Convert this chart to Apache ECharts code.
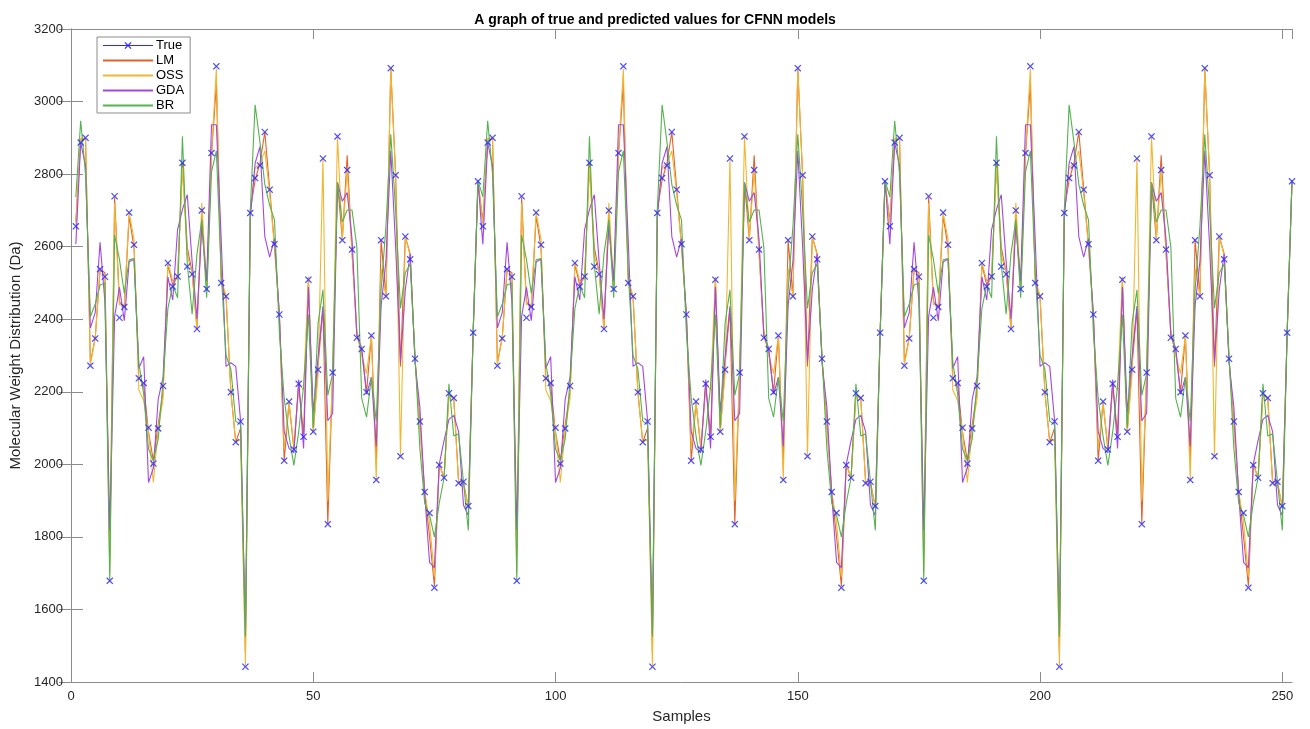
<!DOCTYPE html>
<html><head><meta charset="utf-8">
<script src="https://cdn.jsdelivr.net/npm/echarts@6/dist/echarts.min.js"></script>
<style>html,body{margin:0;padding:0;background:#fff}#c{width:1310px;height:729px}</style>
</head><body><div id="c"></div>
<script>
const xTicks = [0, 50, 100, 150, 200, 250];
const yTicks = [1400, 1600, 1800, 2000, 2200, 2400, 2600, 2800, 3000, 3200];
const seriesNames = ['True', 'LM', 'OSS', 'GDA', 'BR'];

const trueVals = [
2656,2887,2900,2272,2347,2538,2517,1679,2739,2404,2434,2694,2605,2237,2224,2101,2002,2099,2216,2555,2490,2518,2831,2545,2524,2373,2700,2483,2858,3097,2500,2463,2199,2061,2118,1442,2693,2789,2824,2916,2757,2607,2413,2010,2173,2041,2222,2076,2509,2090,2261,2843,1835,2253,2904,2618,2811,2592,2349,2318,2199,2355,1957,2618,2463,3092,2797,2022,2628,2565,2291,2118,1924,1866,1660,1998,1963,2196,2183,1948,1952,1885,2363,2780,
2656,2887,2900,2272,2347,2538,2517,1679,2739,2404,2434,2694,2605,2237,2224,2101,2002,2099,2216,2555,2490,2518,2831,2545,2524,2373,2700,2483,2858,3097,2500,2463,2199,2061,2118,1442,2693,2789,2824,2916,2757,2607,2413,2010,2173,2041,2222,2076,2509,2090,2261,2843,1835,2253,2904,2618,2811,2592,2349,2318,2199,2355,1957,2618,2463,3092,2797,2022,2628,2565,2291,2118,1924,1866,1660,1998,1963,2196,2183,1948,1952,1885,2363,2780,
2656,2887,2900,2272,2347,2538,2517,1679,2739,2404,2434,2694,2605,2237,2224,2101,2002,2099,2216,2555,2490,2518,2831,2545,2524,2373,2700,2483,2858,3097,2500,2463,2199,2061,2118,1442,2693,2789,2824,2916,2757,2607,2413,2010,2173,2041,2222,2076,2509,2090,2261,2843,1835,2253,2904,2618,2811,2592,2349,2318,2199,2355,1957,2618,2463,3092,2797,2022,2628,2565,2291,2118,1924,1866,1660,1998,1963,2196,2183,1948,1952,1885,2363,2780];

const lmVals = [
2670,2893,2898,2280,2350,2535,2529,1755,2736,2448,2434,2684,2598,2240,2216,2089,2010,2110,2200,2551,2494,2518,2830,2598,2529,2373,2690,2483,2853,3049,2500,2460,2199,2061,2100,1480,2700,2784,2830,2916,2760,2605,2413,2010,2170,2041,2216,2083,2509,2090,2274,2430,1836,2250,2777,2620,2852,2586,2355,2310,2199,2355,2000,2618,2463,3090,2797,2270,2628,2580,2291,2118,1924,1800,1665,2000,1963,2193,2183,1952,1952,1881,2363,2780,
2670,2893,2898,2280,2350,2535,2529,1755,2736,2448,2434,2684,2598,2240,2216,2089,2010,2110,2200,2551,2494,2518,2830,2598,2529,2373,2690,2483,2853,3049,2500,2460,2199,2061,2100,1480,2700,2784,2830,2916,2760,2605,2413,2010,2170,2041,2216,2083,2509,2090,2274,2430,1836,2250,2777,2620,2852,2586,2355,2310,2199,2355,2000,2618,2463,3090,2797,2270,2628,2580,2291,2118,1924,1800,1665,2000,1963,2193,2183,1952,1952,1881,2363,2780,
2670,2893,2898,2280,2350,2535,2529,1755,2736,2448,2434,2684,2598,2240,2216,2089,2010,2110,2200,2551,2494,2518,2830,2598,2529,2373,2690,2483,2853,3049,2500,2460,2199,2061,2100,1480,2700,2784,2830,2916,2760,2605,2413,2010,2170,2041,2216,2083,2509,2090,2274,2430,1836,2250,2777,2620,2852,2586,2355,2310,2199,2355,2000,2618,2463,3090,2797,2270,2628,2580,2291,2118,1924,1800,1665,2000,1963,2193,2183,1952,1952,1881,2363,2780];

const ossVals = [
2660,2899,2900,2275,2347,2540,2520,1697,2720,2440,2440,2694,2621,2205,2176,2089,1950,2100,2180,2557,2506,2510,2818,2575,2529,2373,2720,2490,2858,3090,2510,2465,2199,2061,2070,1445,2690,2818,2830,2864,2748,2598,2413,2044,2170,2050,2222,2205,2517,2090,2250,2843,1900,2255,2904,2621,2811,2580,2370,2300,2250,2355,1957,2540,2463,3092,2795,2022,2628,2575,2291,2100,1924,1840,1690,2000,1963,2190,2180,1948,1945,1885,2363,2780,
2660,2899,2900,2275,2347,2540,2520,1697,2720,2440,2440,2694,2621,2205,2176,2089,1950,2100,2180,2557,2506,2510,2818,2575,2529,2373,2720,2490,2858,3090,2510,2465,2199,2061,2070,1445,2690,2818,2830,2864,2748,2598,2413,2044,2170,2050,2222,2205,2517,2090,2250,2843,1900,2255,2904,2621,2811,2580,2370,2300,2250,2355,1957,2540,2463,3092,2795,2022,2628,2575,2291,2100,1924,1840,1690,2000,1963,2190,2180,1948,1945,1885,2363,2780,
2660,2899,2900,2275,2347,2540,2520,1697,2720,2440,2440,2694,2621,2205,2176,2089,1950,2100,2180,2557,2506,2510,2818,2575,2529,2373,2720,2490,2858,3090,2510,2465,2199,2061,2070,1445,2690,2818,2830,2864,2748,2598,2413,2044,2170,2050,2222,2205,2517,2090,2250,2843,1900,2255,2904,2621,2811,2580,2370,2300,2250,2355,1957,2540,2463,3092,2795,2022,2628,2575,2291,2100,1924,1840,1690,2000,1963,2190,2180,1948,1945,1885,2363,2780];

const gdaVals = [
2607,2887,2823,2376,2418,2612,2448,1818,2407,2488,2396,2558,2566,2265,2297,1950,1990,2180,2240,2517,2453,2647,2702,2743,2558,2401,2657,2505,2936,2936,2620,2270,2280,2270,2120,1530,2680,2830,2876,2628,2571,2622,2413,2090,2044,2032,2234,2044,2489,2142,2297,2436,2120,2140,2777,2725,2749,2621,2355,2321,2193,2240,2050,2436,2560,2864,2600,2281,2482,2580,2280,2158,1916,1730,1715,2000,2066,2124,2135,2090,1888,1859,2363,2782,
2607,2887,2823,2376,2418,2612,2448,1818,2407,2488,2396,2558,2566,2265,2297,1950,1990,2180,2240,2517,2453,2647,2702,2743,2558,2401,2657,2505,2936,2936,2620,2270,2280,2270,2120,1530,2680,2830,2876,2628,2571,2622,2413,2090,2044,2032,2234,2044,2489,2142,2297,2436,2120,2140,2777,2725,2749,2621,2355,2321,2193,2240,2050,2436,2560,2864,2600,2281,2482,2580,2280,2158,1916,1730,1715,2000,2066,2124,2135,2090,1888,1859,2363,2782,
2607,2887,2823,2376,2418,2612,2448,1818,2407,2488,2396,2558,2566,2265,2297,1950,1990,2180,2240,2517,2453,2647,2702,2743,2558,2401,2657,2505,2936,2936,2620,2270,2280,2270,2120,1530,2680,2830,2876,2628,2571,2622,2413,2090,2044,2032,2234,2044,2489,2142,2297,2436,2120,2140,2777,2725,2749,2621,2355,2321,2193,2240,2050,2436,2560,2864,2600,2281,2482,2580,2280,2158,1916,1730,1715,2000,2066,2124,2135,2090,1888,1859,2363,2782];

const brVals = [
2737,2947,2800,2407,2442,2494,2500,1680,2632,2565,2471,2564,2567,2280,2193,2042,2010,2070,2230,2430,2494,2459,2904,2552,2414,2580,2674,2459,2806,2864,2530,2300,2262,2119,2110,1525,2700,2991,2888,2772,2714,2674,2366,2182,2078,1997,2090,2216,2413,2101,2390,2481,2190,2250,2777,2668,2701,2701,2598,2182,2130,2240,2118,2480,2656,2910,2700,2430,2528,2552,2300,2044,1893,1860,1800,1893,1963,2222,2078,2084,1952,1818,2363,2782,
2737,2947,2800,2407,2442,2494,2500,1680,2632,2565,2471,2564,2567,2280,2193,2042,2010,2070,2230,2430,2494,2459,2904,2552,2414,2580,2674,2459,2806,2864,2530,2300,2262,2119,2110,1525,2700,2991,2888,2772,2714,2674,2366,2182,2078,1997,2090,2216,2413,2101,2390,2481,2190,2250,2777,2668,2701,2701,2598,2182,2130,2240,2118,2480,2656,2910,2700,2430,2528,2552,2300,2044,1893,1860,1800,1893,1963,2222,2078,2084,1952,1818,2363,2782,
2737,2947,2800,2407,2442,2494,2500,1680,2632,2565,2471,2564,2567,2280,2193,2042,2010,2070,2230,2430,2494,2459,2904,2552,2414,2580,2674,2459,2806,2864,2530,2300,2262,2119,2110,1525,2700,2991,2888,2772,2714,2674,2366,2182,2078,1997,2090,2216,2413,2101,2390,2481,2190,2250,2777,2668,2701,2701,2598,2182,2130,2240,2118,2480,2656,2910,2700,2430,2528,2552,2300,2044,1893,1860,1800,1893,1963,2222,2078,2084,1952,1818,2363,2782];

const chart = echarts.init(document.getElementById('c'), null, {renderer: 'canvas'});
const pairs = arr => arr.map((v, i) => [i + 1, v]);
const FONT = '"Liberation Sans", Arial, sans-serif';
const AX = '#8c8c8c';
const TXT = '#262626';
const X_PATH = 'path://M0,1.2L1.2,0L5,3.8L8.8,0L10,1.2L6.2,5L10,8.8L8.8,10L5,6.2L1.2,10L0,8.8L3.8,5Z';
const LEGEND_TRUE_ICON = 'path://M0,3.55L50,3.55L50,4.45L0,4.45Z' +
  'M21.5,1.34L22.34,0.5L25,3.16L27.66,0.5L28.5,1.34L25.84,4L28.5,6.66L27.66,7.5L25,4.84L22.34,7.5L21.5,6.66L24.16,4Z';
const colors = {True: '#2a2aff', LM: '#e0622c', OSS: '#f0b732', GDA: '#a347e0', BR: '#55b34f'};

function xAxisCfg(pos, main) {
  return {
    type: 'value', position: pos, min: 0, max: 252, interval: 50,
    name: main ? 'Samples' : '', nameLocation: 'middle', nameGap: 27,
    nameTextStyle: {fontFamily: FONT, fontSize: 15, color: TXT},
    axisLine: {show: true, lineStyle: {color: AX, width: 1}},
    axisTick: {show: true, inside: true, length: 10, lineStyle: {color: AX}},
    axisLabel: {show: main, fontFamily: FONT, fontSize: 13, color: TXT, margin: 8, showMaxLabel: false,
      formatter: v => xTicks.includes(v) ? String(v) : ''},
    splitLine: {show: false}
  };
}
function yAxisCfg(pos, main) {
  return {
    type: 'value', position: pos, min: 1400, max: 3200, interval: 200,
    name: main ? 'Molecular Weight Distribution (Da)' : '', nameLocation: 'middle', nameGap: 45,
    nameTextStyle: {fontFamily: FONT, fontSize: 15, color: TXT},
    axisLine: {show: true, lineStyle: {color: AX, width: 1}},
    axisTick: {show: true, inside: true, length: 12, lineStyle: {color: AX}},
    axisLabel: {show: main, fontFamily: FONT, fontSize: 13, color: TXT, margin: 8,
      formatter: v => yTicks.includes(v) ? String(v) : ''},
    splitLine: {show: false}
  };
}

const predLine = (name, vals) => ({
  name, type: 'line', data: pairs(vals), symbol: 'none', showSymbol: false,
  lineStyle: {color: colors[name], width: 1.1}, itemStyle: {color: colors[name]},
  z: 2, silent: true
});

chart.setOption({
  animation: false,
  title: {text: 'A graph of true and predicted values for CFNN models', left: 'center', top: 8,
    textStyle: {fontFamily: FONT, fontSize: 14, fontWeight: 'bold', color: '#000'}},
  grid: {left: 71, right: 18, top: 29, bottom: 43, containLabel: false},
  legend: {
    orient: 'vertical', left: 97, top: 37, itemWidth: 50, itemHeight: 8, itemGap: 0,
    padding: [1, 6, 0, 5], backgroundColor: '#fff', borderColor: AX, borderWidth: 1, borderRadius: 0,
    textStyle: {fontFamily: FONT, fontSize: 13, lineHeight: 15, height: 15, color: '#000', padding: [0, 0, 0, -2]},
    data: [
      {name: 'True', icon: LEGEND_TRUE_ICON, itemStyle: {color: colors.True, opacity: 1}},
      {name: 'LM', itemStyle: {opacity: 0}},
      {name: 'OSS', itemStyle: {opacity: 0}},
      {name: 'GDA', itemStyle: {opacity: 0}},
      {name: 'BR', itemStyle: {opacity: 0}}
    ]
  },
  xAxis: [xAxisCfg('bottom', true), xAxisCfg('top', false)],
  yAxis: [yAxisCfg('left', true), yAxisCfg('right', false)],
  series: [
    {name: 'True', type: 'line', data: pairs(trueVals), symbol: X_PATH, symbolSize: 7, showSymbol: true,
      showAllSymbol: true, lineStyle: {color: colors.True, width: 0, opacity: 1},
      itemStyle: {color: colors.True, opacity: 0.85}, z: 5, silent: true},
    predLine('LM', lmVals),
    predLine('OSS', ossVals),
    predLine('GDA', gdaVals),
    predLine('BR', brVals)
  ]
});
</script>
</body></html>
